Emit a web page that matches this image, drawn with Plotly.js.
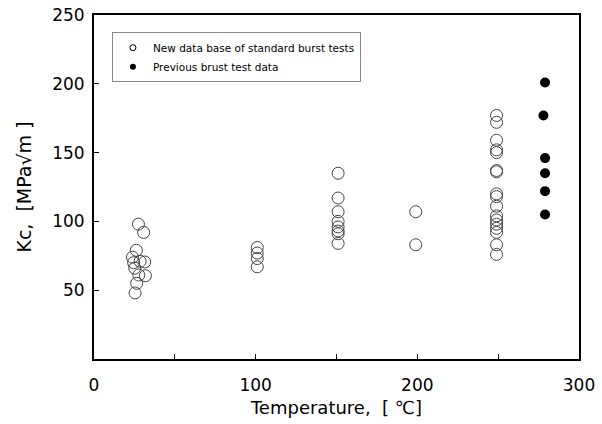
<!DOCTYPE html>
<html>
<head>
<meta charset="utf-8">
<script src="https://cdn.plot.ly/plotly-3.0.1.min.js"></script>
<style>html,body{margin:0;padding:0;background:#fff;}</style>
</head>
<body>
<div id="chart" style="width:602px;height:424px;"></div>
<script>
// New data base of standard burst tests
const newTemp = [27.5, 30.7, 26.2, 23.8, 31.4, 28.5, 24.5, 25.2, 31.8, 27.7, 26.4, 25.4,
                 101, 101, 101, 101,
                 151, 151, 151, 151, 151, 151, 151, 151,
                 199, 199,
                 249, 249, 249, 249, 249, 249, 249, 249, 249, 249, 249, 249, 249, 249, 249, 249, 249];
const newKc = [98, 92, 79, 74, 70.5, 71, 70, 66, 60.5, 61, 55, 48,
               81, 77, 73, 67,
               135, 117, 107, 100, 96, 93, 91, 84,
               107, 83,
               177, 172, 159, 152, 150, 137, 136, 120, 118, 111, 104, 101, 98, 95, 92, 83, 76];
// Previous burst test data
const prevTemp = [279, 278, 279, 279, 279, 279];
const prevKc = [201, 177, 146, 135, 122, 105];

const xTickVals = [0, 100, 200, 300];
const yTickVals = [50, 100, 150, 200, 250];
const newName = 'New data base of standard burst tests';
const prevName = 'Previous brust test data';

const axFont = '"DejaVu Sans", sans-serif';
const legFont = '"DejaVu Sans", sans-serif';

const traces = [
  {x: newTemp, y: newKc, type: 'scatter', mode: 'markers', showlegend: false,
   marker: {symbol: 'circle-open', size: 12, color: '#444', line: {width: 1, color: '#444'}}},
  {x: prevTemp, y: prevKc, type: 'scatter', mode: 'markers', showlegend: false,
   marker: {symbol: 'circle', size: 10, color: '#000'}},
  {x: [null], y: [null], type: 'scatter', mode: 'markers', name: newName,
   marker: {symbol: 'circle-open', size: 6, color: '#000', line: {width: 1}}},
  {x: [null], y: [null], type: 'scatter', mode: 'markers', name: prevName,
   marker: {symbol: 'circle', size: 6, color: '#000'}}
];

const layout = {
  width: 602, height: 424,
  margin: {l: 94, r: 23, t: 15, b: 65},
  paper_bgcolor: '#fff', plot_bgcolor: '#fff',
  font: {family: axFont, color: '#000', size: 17},
  showlegend: true,
  legend: {x: 0.037, y: 0.95, xanchor: 'left', yanchor: 'top',
           bgcolor: '#fff', bordercolor: '#888', borderwidth: 1,
           font: {family: legFont, size: 10.5, color: '#000'},
           itemwidth: 30, tracegroupgap: 0},
  xaxis: {range: [0, 300], tickvals: xTickVals, ticktext: xTickVals.map(String),
          ticks: 'inside', ticklen: 5, tickcolor: '#000', tickwidth: 1,
          minor: {dtick: 50, tick0: 0, ticks: 'inside', ticklen: 5, tickcolor: '#000', tickwidth: 1},
          showline: true, mirror: true, linecolor: '#000', linewidth: 2,
          showgrid: false, zeroline: false, ticklabelstandoff: 10,
          tickfont: {size: 17},
          title: {text: 'Temperature,\u00A0 [\u00A0℃]', font: {size: 18}, standoff: 7}},
  yaxis: {range: [0, 250], tickvals: yTickVals, ticktext: yTickVals.map(String),
          ticks: 'inside', ticklen: 5, tickcolor: '#000', tickwidth: 1,
          showline: true, mirror: true, linecolor: '#000', linewidth: 2,
          showgrid: false, zeroline: false, ticklabelstandoff: 4,
          tickfont: {size: 17},
          title: {text: 'Kc,\u00A0 [MPa√m\u00A0]', font: {size: 19}, standoff: 15}}
};

Plotly.newPlot('chart', traces, layout, {displayModeBar: false, staticPlot: true});
</script>
</body>
</html>
